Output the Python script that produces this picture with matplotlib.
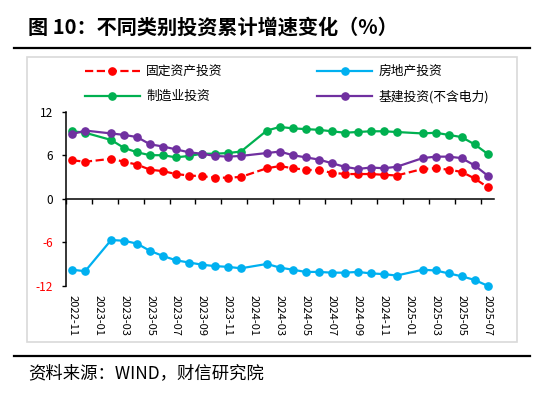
import numpy as np
import matplotlib
matplotlib.use('Agg')
import matplotlib.pyplot as plt
from matplotlib.patches import Rectangle
from matplotlib.lines import Line2D

plt.rcParams['font.family'] = ['Noto Sans CJK SC', 'DejaVu Sans']

# categories: monthly, January has no data (Jan-Feb reported together)
months = ['2022-11', '2022-12',
          '2023-01', '2023-02', '2023-03', '2023-04', '2023-05', '2023-06',
          '2023-07', '2023-08', '2023-09', '2023-10', '2023-11', '2023-12',
          '2024-01', '2024-02', '2024-03', '2024-04', '2024-05', '2024-06',
          '2024-07', '2024-08', '2024-09', '2024-10', '2024-11', '2024-12',
          '2025-01', '2025-02', '2025-03', '2025-04', '2025-05', '2025-06',
          '2025-07']

fixed_inv = [5.3, 5.1,
             None, 5.5, 5.1, 4.7, 4.0, 3.8, 3.4, 3.2, 3.1, 2.9, 2.9, 3.0,
             None, 4.2, 4.5, 4.2, 4.0, 3.9, 3.6, 3.4, 3.4, 3.4, 3.3, 3.2,
             None, 4.1, 4.2, 4.0, 3.7, 2.8, 1.6]
realestate_inv = [-9.8, -10.0,
                  None, -5.7, -5.8, -6.2, -7.2, -7.9, -8.5, -8.8, -9.1, -9.3, -9.4, -9.6,
                  None, -9.0, -9.5, -9.8, -10.1, -10.1, -10.2, -10.2, -10.1, -10.3, -10.4, -10.6,
                  None, -9.8, -9.9, -10.3, -10.7, -11.2, -12.0]
manuf_inv = [9.3, 9.1,
             None, 8.1, 7.0, 6.4, 6.0, 6.0, 5.7, 5.9, 6.2, 6.2, 6.3, 6.5,
             None, 9.4, 9.9, 9.7, 9.6, 9.5, 9.3, 9.1, 9.2, 9.3, 9.3, 9.2,
             None, 9.0, 9.1, 8.8, 8.5, 7.5, 6.2]
infra_inv = [8.9, 9.4,
             None, 9.0, 8.8, 8.5, 7.5, 7.2, 6.8, 6.4, 6.2, 5.9, 5.8, 5.9,
             None, 6.3, 6.5, 6.0, 5.7, 5.4, 4.9, 4.4, 4.1, 4.3, 4.2, 4.4,
             None, 5.6, 5.8, 5.8, 5.6, 4.6, 3.2]

series = [
    ('固定资产投资', fixed_inv, '#FF0000', '--'),
    ('房地产投资', realestate_inv, '#00B0F0', '-'),
    ('制造业投资', manuf_inv, '#00B050', '-'),
    ('基建投资(不含电力)', infra_inv, '#7030A0', '-'),
]
yticks = [-12, -6, 0, 6, 12]

fig = plt.figure(figsize=(5.5, 3.94), dpi=100)

# title + rules
fig.text(28 / 550, 1 - 27 / 394, '图 10：不同类别投资累计增速变化（%）',
         fontsize=14.5, fontweight='bold', va='center', ha='left')
fig.add_artist(Line2D([14 / 550, 530 / 550], [1 - 47.5 / 394] * 2,
                      color='black', lw=1.6, transform=fig.transFigure))
fig.add_artist(Line2D([14 / 550, 530 / 550], [1 - 356 / 394] * 2,
                      color='black', lw=1.6, transform=fig.transFigure))
fig.text(28 / 550, 1 - 373 / 394, '资料来源：WIND，财信研究院',
         fontsize=12.5, style='italic', va='center', ha='left')

# chart frame
fig.add_artist(Rectangle((27 / 550, 1 - 342 / 394), 490 / 550, 285 / 394,
                         transform=fig.transFigure, fill=False,
                         edgecolor='#D9D9D9', lw=1.2))

ax = fig.add_axes([65.7 / 550, 1 - 285.7 / 394, 428.3 / 550, 174 / 394])

handles = {}
for name, vals, col, ls in series:
    xs = [i for i, v in enumerate(vals) if v is not None]
    ys = [v for v in vals if v is not None]
    ln, = ax.plot(xs, ys, color=col, ls=ls, lw=1.6, marker='o', ms=5.2,
                  label=name, clip_on=False)
    handles[name] = ln

ax.set_xlim(-0.5, len(months) - 0.5)
ax.set_ylim(-12, 12)
ax.set_yticks(yticks)
ax.set_yticklabels([str(v) for v in yticks])
for lbl, v in zip(ax.get_yticklabels(), yticks):
    if v < 0:
        lbl.set_color('red')
ax.tick_params(axis='y', length=3, width=1, pad=6, labelsize=8.5)

ax.set_xticks(range(0, len(months), 2))
ax.set_xticklabels(months[::2], rotation=270)
ax.tick_params(axis='x', length=0, pad=7, labelsize=8)

for s in ['top', 'right', 'bottom']:
    ax.spines[s].set_visible(False)
ax.spines['left'].set_linewidth(1.1)

# zero line axis with tick marks between categories
sec = ax.secondary_xaxis(0, transform=ax.transData)
sec.set_xticks(np.arange(-0.5, len(months) - 1, 2))
sec.tick_params(axis='x', direction='out', length=3.5, width=1, labelbottom=False)
sec.spines['bottom'].set_linewidth(1.1)

order = ['固定资产投资', '制造业投资', '房地产投资', '基建投资(不含电力)']
fig.legend([handles[k] for k in order], order, ncol=2, loc='upper left',
           bbox_to_anchor=(85 / 550, 1 - 65 / 394), frameon=False,
           fontsize=9.2, handlelength=4.3, handletextpad=0.5,
           columnspacing=7.4, labelspacing=0.95, borderpad=0,
           borderaxespad=0)

fig.savefig('out.png', dpi=100)
